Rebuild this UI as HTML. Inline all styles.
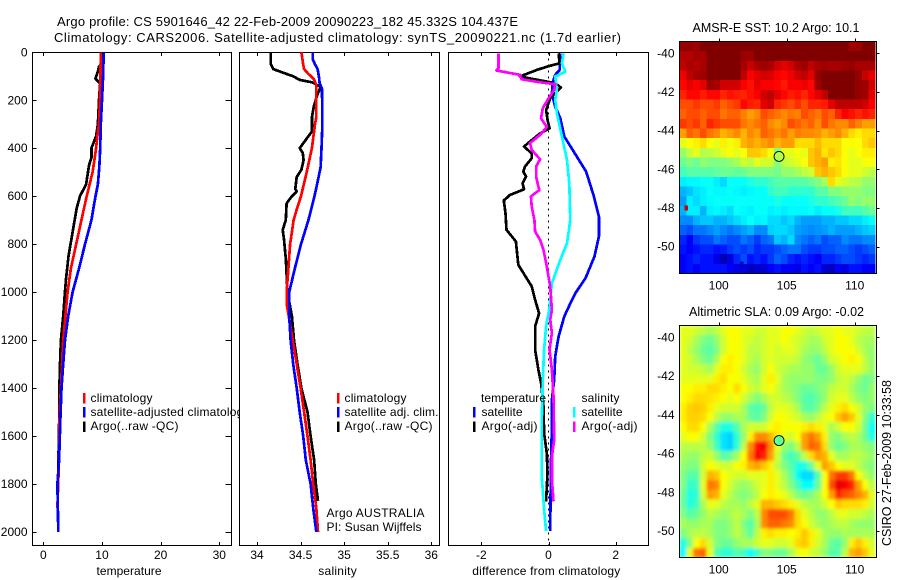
<!DOCTYPE html>
<html>
<head>
<meta charset="utf-8">
<title>Argo profile</title>
<style>
html,body{margin:0;padding:0;background:#fff;width:900px;height:580px;overflow:hidden}
svg{display:block}
text{font-family:"Liberation Sans",sans-serif;font-size:12px;fill:#000}
.frame{fill:none;stroke:#000;stroke-width:1;shape-rendering:crispEdges}
.bg{fill:#fff;stroke:none}
</style>
</head>
<body>
<svg id="chart" xmlns="http://www.w3.org/2000/svg" width="900" height="580" viewBox="0 0 900 580">
  <text x="57" y="26" textLength="461" style="font-size:13px">Argo profile: CS 5901646_42 22-Feb-2009 20090223_182 45.332S 104.437E</text>
  <text x="54" y="42" textLength="567" style="font-size:13px">Climatology: CARS2006. Satellite-adjusted climatology: synTS_20090221.nc (1.7d earlier)</text>

  <g id="p1"></g>
  <g>
    <rect x="83" y="393" width="2.5" height="10.5" fill="#f00"/>
    <text x="90.5" y="402" textLength="62">climatology</text>
    <rect x="83" y="407" width="2.5" height="10.5" fill="#00f"/>
    <text x="90.5" y="416" textLength="159">satellite-adjusted climatology</text>
    <rect x="83" y="421.5" width="2.5" height="10.5" fill="#000"/>
    <text x="90.5" y="430" textLength="88">Argo(..raw -QC)</text>
  </g>

  <rect class="bg" x="239" y="44" width="200" height="510"/>
  <g id="p2"></g>
  <g>
    <rect x="337" y="393" width="2.5" height="10.5" fill="#f00"/>
    <text x="344.5" y="402" textLength="62">climatology</text>
    <rect x="337" y="407" width="2.5" height="10.5" fill="#00f"/>
    <text x="344.5" y="416" textLength="94">satellite adj. clim.</text>
    <rect x="337" y="421.5" width="2.5" height="10.5" fill="#000"/>
    <text x="344.5" y="430" textLength="88">Argo(..raw -QC)</text>
    <text x="326.5" y="517" textLength="98">Argo AUSTRALIA</text>
    <text x="326.5" y="531" textLength="95">PI: Susan Wijffels</text>
  </g>

  <g id="p3"></g>
  <g>
    <text x="481" y="402" textLength="65">temperature</text>
    <rect x="473" y="407" width="2.5" height="10.5" fill="#00f"/>
    <text x="481.5" y="416" textLength="41">satellite</text>
    <rect x="473" y="421.5" width="2.5" height="10.5" fill="#000"/>
    <text x="481.5" y="430" textLength="56">Argo(-adj)</text>
    <text x="581.5" y="402" textLength="38">salinity</text>
    <rect x="573" y="407" width="2.5" height="10.5" fill="#0ff"/>
    <text x="581.5" y="416" textLength="41">satellite</text>
    <rect x="573" y="421.5" width="2.5" height="10.5" fill="#f0f"/>
    <text x="581.5" y="430" textLength="56">Argo(-adj)</text>
  </g>

  <g id="m1"></g>
  <g id="m2"></g>
  <text x="692.5" y="32" textLength="167" style="font-size:12.5px">AMSR-E SST: 10.2 Argo: 10.1</text>
  <text x="689" y="316" textLength="175" style="font-size:12.5px">Altimetric SLA: 0.09 Argo: -0.02</text>
  <text transform="translate(891,546) rotate(-90)" textLength="166" style="font-size:12.5px">CSIRO 27-Feb-2009 10:33:58</text>
</svg>

<script>
/* ---------- profile data ---------- */
const tClimDepth = [0,200,300,350,400,500,600,700,800,900,1000,1200,1400,1500,1700,1900];
const tClimVal   = [9.8,9.66,9.5,9.2,9.0,8.4,7.4,6.5,5.6,4.7,4.15,3.4,3.0,2.8,2.67,2.4];
const tSatDepth  = [0,100,200,300,400,480,550,600,700,800,900,1000,1100,1200,1300,1400,1500,1700,1800,2000];
const tSatVal    = [10.3,10.2,10.0,9.8,9.7,9.55,9.3,8.9,8.2,7.1,6.1,5.0,4.25,3.7,3.4,3.1,2.95,2.7,2.4,2.55];
const tArgoDepth = [50,60,80,110,130,200,300,350,400,440,470,550,600,650,750,850,950,1030,1100,1200,1300,1400,1550,1870];
const tArgoVal   = [9.8,9.5,9.3,8.9,9.7,9.5,9.3,9.0,8.2,8.2,7.8,7.3,6.25,5.7,5.0,4.3,3.85,3.6,3.4,3.0,2.85,2.75,2.7,2.45];

const sClimDepth = [0,50,70,90,110,135,200,270,300,400,500,600,650,700,750,800,900,1000,1060,1200,1300,1400,1500,1600,1700,1800,1900,2000];
const sClimVal   = [34.51,34.53,34.54,34.59,34.65,34.68,34.68,34.68,34.665,34.63,34.57,34.505,34.46,34.42,34.4,34.38,34.36,34.34,34.345,34.41,34.455,34.5,34.54,34.58,34.615,34.645,34.68,34.7];
const sSatDepth  = [0,30,50,70,100,130,150,250,300,400,480,550,600,700,800,900,1000,1100,1200,1300,1400,1500,1600,1700,1800,1900,2000];
const sSatVal    = [34.64,34.64,34.665,34.695,34.71,34.72,34.745,34.75,34.75,34.74,34.73,34.69,34.66,34.59,34.505,34.435,34.37,34.37,34.385,34.415,34.455,34.49,34.53,34.56,34.615,34.645,34.68];
const sArgoDepth = [0,50,70,85,100,115,125,135,145,170,220,270,330,370,400,420,450,490,520,570,580,600,630,700,740,780,860,1000,1100,1200,1300,1400,1500,1600,1700,1800,1870];
const sArgoVal   = [34.157,34.16,34.187,34.3,34.415,34.49,34.63,34.685,34.73,34.7,34.655,34.63,34.63,34.55,34.49,34.525,34.535,34.51,34.455,34.44,34.455,34.4,34.34,34.33,34.295,34.31,34.33,34.35,34.4,34.425,34.465,34.51,34.58,34.615,34.655,34.675,34.7];

const dTSatDepth  = [4,74,94,122,171,226,275,351,414,497,601,685,768,851,942,1004,1032,1101,1185,1268,1365,1449,1560,1726,1996];
const dTSatVal    = [.35,.33,.2,.13,.1,.2,.35,.47,.75,1.12,1.35,1.5,1.5,1.37,1.1,.8,.7,.47,.3,.2,.17,.1,.1,.07,.05];
const dTArgoDepth = [4,46,60,74,101,129,147,192,240,282,317,338,372,393,421,442,476,497,518,546,571,595,618,671,740,789,886,976,1032,1088,1143,1240,1324,1379,1476,1588,1671,1754,1872];
const dTArgoVal   = [.3,.33,-.05,-.35,-.85,.2,.37,.05,-.07,-.03,.03,-.25,-.55,-.73,-.5,-.5,-.7,-.75,-.67,-.77,-.73,-1.15,-1.33,-1.28,-1.25,-.97,-.9,-.5,-.4,-.28,-.4,-.4,-.3,-.22,-.15,-.13,-.05,-.03,-.07];
const dSSatDepth  = [4,46,81,101,157,199,254,351,449,546,699,796,865,963,1067,1088,1143,1240,1365,1532,1768,1907,1996];
const dSSatVal    = [.45,.4,.5,.2,.25,.2,.25,.4,.55,.62,.65,.55,.35,.1,.03,0,-.07,-.13,-.17,-.2,-.2,-.13,-.07];
const dSArgoDepth = [4,67,76,94,112,125,133,157,192,233,275,312,344,379,407,446,476,518,560,574,601,643,699,747,782,824,893,976,1074,1115,1171,1240,1324,1435,1615,1685,1782,1872];
const dSArgoVal   = [-1.49,-1.49,-1.55,-.85,-.8,-.25,.2,.17,0,-.17,-.22,-.05,-.25,-.55,-.5,-.25,-.37,-.37,-.3,-.27,-.52,-.5,-.42,-.4,-.25,-.15,-.05,.05,.1,.05,.1,.03,.1,.15,.17,.1,.1,.15];

const zeroLineDepth = [0,2055];
const zeroLineVal   = [0,0];

/* ---------- tick labels ---------- */
const depthTicks = [0,200,400,600,800,1000,1200,1400,1600,1800,2000];
const tempTicks  = [0,10,20,30];
const salTicks   = [34,34.5,35,35.5,36];
const salLabels  = ["34","34.5","35","35.5","36"];
const diffTicks  = [-2,0,2];
const lonTicks   = [100,105,110];
const latTicks   = [-40,-42,-44,-46,-48,-50];

/* ---------- map values: jet colour-scale percent, 29 columns x 24 rows ---------- */
const sstRows = [
[98,98,97,100,100,100,100,100,100,100,100,100,100,100,100,100,100,100,100,100,100,100,100,100,100,97,97,100,100],
[95,95,96,96,100,100,100,100,100,97,97,100,100,100,100,100,100,100,100,100,100,100,100,100,100,100,100,100,100],
[94,96,95,96,100,100,100,100,100,96,93,96,97,96,92,90,92,96,97,94,96,97,96,96,97,98,96,96,96],
[89,94,96,97,100,100,100,100,100,94,88,90,92,91,88,87,89,92,94,90,98,100,100,100,100,100,98,93,90],
[87,90,88,90,97,96,92,92,92,88,86,90,88,88,87,85,88,88,89,87,97,100,100,100,100,100,98,97,92],
[84,87,87,85,87,87,84,86,85,84,86,88,92,94,90,87,85,86,84,87,90,94,100,100,100,100,98,97,90],
[80,80,82,80,80,82,78,80,82,87,85,84,90,92,84,82,80,83,80,84,84,85,90,94,94,94,94,92,88],
[78,80,80,78,80,80,76,78,78,75,72,74,80,78,76,74,76,75,80,78,76,80,78,84,88,86,84,86,84],
[82,80,82,78,84,82,80,80,80,76,74,76,78,74,72,74,80,78,76,78,74,80,76,74,74,78,75,72,72],
[72,78,76,80,76,74,70,72,74,70,74,72,78,76,74,76,72,75,74,74,73,70,72,74,70,66,64,66,66],
[60,62,64,66,62,60,64,61,64,70,72,70,72,74,70,72,72,66,66,66,69,66,66,66,62,63,62,66,68],
[52,57,60,55,56,58,60,62,60,62,68,68,66,62,50,60,60,62,60,68,70,65,68,66,62,60,62,64,64],
[48,50,48,52,50,50,50,52,54,58,56,60,58,58,50,56,58,60,62,68,70,72,64,65,62,60,60,62,62],
[44,46,46,46,46,47,48,48,47,48,50,50,50,50,49,52,52,54,56,58,68,70,68,66,62,60,60,58,56],
[36,37,37,38,38,36,34,38,38,38,40,42,42,44,46,46,46,46,46,48,50,54,66,60,58,56,55,52,52],
[30,32,35,36,38,37,37,38,37,36,37,38,38,42,44,44,42,42,42,42,46,46,50,50,52,52,52,50,50],
[28,36,34,36,37,38,38,38,38,38,38,38,38,38,40,38,38,38,38,40,42,42,44,46,48,52,50,52,52],
[30,36,36,30,36,37,36,34,38,37,36,38,38,36,37,36,37,37,37,38,36,38,38,40,44,44,44,46,48],
[26,26,30,32,32,30,30,32,34,36,38,36,37,34,34,32,34,30,28,28,28,30,30,32,32,34,34,36,38],
[22,20,24,24,26,28,26,24,26,28,30,26,26,33,34,34,32,28,27,26,27,28,30,28,28,28,30,32,33],
[16,12,18,20,20,24,22,20,20,24,22,18,22,24,32,30,34,26,24,22,24,20,22,22,26,24,24,26,26],
[14,12,14,16,16,14,15,18,20,18,20,16,18,18,20,22,24,24,20,18,18,20,20,22,22,20,18,20,22],
[12,14,16,14,14,10,6,10,16,20,14,16,14,18,22,20,16,14,16,14,12,16,16,18,20,20,18,16,18],
[12,14,12,14,14,14,14,12,10,10,6,8,8,12,14,12,12,10,14,12,14,8,6,12,10,14,14,12,12]
];
const slaRows = [
[60,60,58,56,54,56,60,62,62,60,60,58,58,60,60,62,62,60,58,56,58,60,60,62,60,60,58,56,56],
[60,58,54,50,48,52,58,62,62,60,58,56,58,60,60,62,60,58,56,54,54,58,60,62,62,60,56,54,54],
[60,56,52,48,46,50,58,62,62,60,56,56,58,60,58,60,60,58,54,52,52,56,60,62,62,62,58,54,52],
[60,58,54,50,48,54,62,64,62,60,56,54,58,60,58,58,58,56,52,50,48,52,58,60,62,64,62,56,52],
[60,58,58,56,54,60,64,64,62,58,54,52,58,62,58,56,54,54,52,52,48,48,52,58,60,60,60,56,52],
[60,60,60,60,60,64,66,62,62,60,56,54,60,64,60,54,52,52,52,52,50,50,52,56,58,56,52,48,50],
[62,62,64,64,66,66,64,62,66,62,58,56,60,62,58,54,52,50,48,48,50,52,56,58,58,54,50,48,52],
[62,64,66,66,65,64,62,60,62,58,54,50,54,58,58,56,54,50,46,45,48,52,58,60,60,56,52,50,52],
[64,67,68,67,64,60,58,58,58,54,47,45,48,56,60,60,58,54,47,46,50,56,60,64,66,62,58,52,50],
[64,67,67,66,62,56,52,52,54,54,48,46,50,58,62,62,60,58,54,52,56,60,62,68,72,68,60,50,42],
[62,66,66,62,54,46,40,40,46,54,58,58,58,62,64,62,62,62,64,66,64,60,54,58,62,62,58,48,38],
[60,62,62,58,50,42,35,33,42,52,64,74,74,70,64,60,58,62,72,76,72,64,52,50,54,56,54,48,40],
[56,56,56,56,52,44,35,33,42,56,74,86,88,74,60,52,50,56,72,78,76,66,52,48,50,54,54,52,50],
[54,52,52,56,58,52,46,48,54,62,76,88,84,72,58,48,44,48,56,66,72,70,60,54,54,56,56,54,52],
[52,50,50,58,62,60,58,58,62,64,70,72,68,64,56,50,46,40,40,48,60,72,68,62,60,60,56,52,50],
[50,46,46,58,70,68,62,60,58,58,60,60,60,64,60,54,48,38,34,34,46,62,76,82,82,76,62,56,52],
[50,42,44,60,76,74,62,58,54,52,54,58,60,64,60,56,50,44,38,38,48,62,80,90,88,84,72,62,56],
[48,40,42,58,72,70,60,56,52,50,52,56,62,64,62,60,56,50,48,50,54,62,72,84,80,78,74,70,60],
[48,40,44,54,60,60,56,54,54,52,56,60,70,70,68,66,64,60,56,54,54,58,62,68,66,66,66,64,58],
[50,46,48,52,56,54,52,54,56,54,50,56,74,80,80,80,76,66,60,56,52,52,56,60,60,58,58,56,54],
[54,52,52,54,54,50,50,52,56,50,46,54,74,78,78,76,74,66,62,58,54,52,54,56,56,54,52,52,52],
[50,54,56,56,54,50,50,52,56,52,47,56,64,66,64,64,62,64,68,64,60,54,52,52,54,54,54,54,54],
[40,50,62,66,58,50,48,48,52,54,54,58,60,60,58,58,60,66,68,64,58,54,48,46,52,64,68,64,58],
[38,60,76,78,60,46,42,42,46,44,38,44,50,50,48,48,54,60,62,58,56,52,46,46,56,70,72,68,60]
];
const sstSpotLon = [97.6,100.5,101.7];
const sstSpotLat = [-48,-50.55,-50.9];
const sstSpotVal = [93,2,6];
const floatLon = [104.437];
const floatLat = [-45.332];
const floatSstVal = [55];
const floatSlaVal = [47];

/* ---------- helpers ---------- */
const NS = "http://www.w3.org/2000/svg";
function mk(parent, tag, attrs, txt) {
  const e = document.createElementNS(NS, tag);
  for (const k in attrs) e.setAttribute(k, attrs[k]);
  if (txt !== undefined) e.textContent = txt;
  parent.appendChild(e);
  return e;
}
function linear(d0, d1, r0, r1) {
  return v => r0 + (v - d0) * (r1 - r0) / (d1 - d0);
}
function jet(p) {
  const v = Math.max(0, Math.min(1, p / 100));
  const c = t => Math.round(255 * Math.max(0, Math.min(1, Math.min(4 * t - 0.5, -4 * t + 3.5 + 0))));
  const r = c(v - 0.25), g = c(v), b = c(v + 0.25);
  return "rgb(" + r + "," + g + "," + b + ")";
}

const yDepth = linear(0, 2000, 52.3, 532);

function drawPanel(id, L, R, xScale, xTicks, xLabels, xTitle, titleX, titleLen, prefix, leftLabels) {
  const g = document.getElementById(id);
  const frame = mk(g, "rect", {class: "frame", x: L, y: 52.5, width: R - L, height: 493});
  
  
  xTicks.forEach((t, i) => {
    const x = Math.round(xScale(t)) + 0.5;
    const top = mk(g, "line", {x1: x, x2: x, y1: 52.5, y2: 56, stroke: "#000", "shape-rendering": "crispEdges"});
    
    
    const bot = mk(g, "line", {x1: x, x2: x, y1: 542, y2: 545.5, stroke: "#000", "shape-rendering": "crispEdges"});
    
    
    const lab = mk(g, "text", {x: xScale(t), y: 559, "text-anchor": "middle"}, xLabels[i]);
    
    
  });
  const ttl = mk(g, "text", {x: titleX - titleLen / 2, y: 575, textLength: titleLen}, xTitle);
  
  
  if (leftLabels) {
    depthTicks.forEach(d => {
      const y = Math.round(yDepth(d)) + 0.5;
      const a = mk(g, "line", {x1: L, x2: L + 4, y1: y, y2: y, stroke: "#000", "shape-rendering": "crispEdges"});
      
      
      const b = mk(g, "line", {x1: R - 6, x2: R, y1: y, y2: y, stroke: "#000", "shape-rendering": "crispEdges"});
      
      
      const lab = mk(g, "text", {x: 27.5, y: yDepth(d) + 4, "text-anchor": "end"}, String(d));
      
      
    });
  }
}

function drawLine(id, vals, depths, xScale, color, name, width) {
  const g = document.getElementById(id);
  const pts = vals.map((v, i) => xScale(v).toFixed(1) + "," + yDepth(depths[i]).toFixed(1)).join(" ");
  const pl = mk(g, "polyline", {points: pts, fill: "none", stroke: color, "stroke-width": width, "stroke-linejoin": "round", "shape-rendering": "crispEdges"});
  
  
  return pl;
}

/* ---------- profile panels ---------- */
const xTemp = linear(0, 30, 43.3, 219.3);
const xSal  = linear(34, 36, 257, 431.3);
const xDiff = linear(-2, 2, 481.3, 615.7);
const LW = 2.7;

drawPanel("p1", 32.5, 231.5, xTemp, tempTicks, tempTicks.map(String), "temperature", 129, 65, "temperature", true);
drawLine("p1", tArgoVal, tArgoDepth, xTemp, "#000", "temperature-argo-line", LW);
drawLine("p1", tClimVal, tClimDepth, xTemp, "#f00", "temperature-climatology-line", LW);
drawLine("p1", tSatVal, tSatDepth, xTemp, "#00f", "temperature-satellite-line", LW);

drawPanel("p2", 239.5, 439.5, xSal, salTicks, salLabels, "salinity", 337.5, 38.5, "salinity", false);
drawLine("p2", sArgoVal, sArgoDepth, xSal, "#000", "salinity-argo-line", LW);
drawLine("p2", sClimVal, sClimDepth, xSal, "#f00", "salinity-climatology-line", LW);
drawLine("p2", sSatVal, sSatDepth, xSal, "#00f", "salinity-satellite-line", LW);

drawPanel("p3", 448.5, 648.5, xDiff, diffTicks, diffTicks.map(String), "difference from climatology", 546.3, 148, "difference", false);
const zl = drawLine("p3", zeroLineVal, zeroLineDepth, xDiff, "#000", "zero-reference-line", 1);
zl.setAttribute("stroke-dasharray", "2 4");
drawLine("p3", dTSatVal, dTSatDepth, xDiff, "#00f", "difference-t-satellite-line", LW);
drawLine("p3", dTArgoVal, dTArgoDepth, xDiff, "#000", "difference-t-argo-line", LW);
drawLine("p3", dSSatVal, dSSatDepth, xDiff, "#0ff", "difference-s-satellite-line", LW);
drawLine("p3", dSArgoVal, dSArgoDepth, xDiff, "#f0f", "difference-s-argo-line", LW);

/* ---------- maps ---------- */
function drawMap(id, rows, top, bottom, y40, y50, prefix, blur, floatVal, spots) {
  const g = document.getElementById(id);
  const L = 679.5, R = 876.5, gridR = 875.3;
  const xLon = linear(100, 110, 718.7, 854.7);
  const yLat = linear(-40, -50, y40, y50);
  const nR = rows.length, nC = rows[0].length;
  const cw = (gridR - L) / nC, ch = (bottom - top) / nR;
  const cells = mk(g, "g", blur ? {filter: "url(#" + id + "blur)"} : {});
  
  
  if (blur) {
    const f = mk(g, "filter", {id: id + "blur", x: "0", y: "0", width: "100%", height: "100%"});
    mk(f, "feGaussianBlur", {stdDeviation: blur, edgeMode: "duplicate"});
  }
  rows.forEach((row, r) => row.forEach((v, c) => {
    const cell = mk(cells, "rect", {x: (L + c * cw).toFixed(2), y: (top + r * ch).toFixed(2), width: (cw + 0.4).toFixed(2), height: (ch + 0.4).toFixed(2), fill: jet(v), "shape-rendering": "crispEdges"});
    
    
  }));
  if (spots) spots.lon.forEach((lon, i) => {
    const s = mk(g, "rect", {x: xLon(lon) - 1.7, y: yLat(spots.lat[i]) - 2.4, width: 3.4, height: 4.8, fill: jet(spots.val[i]), "shape-rendering": "crispEdges"});
    
    
  });
  const fr = mk(g, "rect", {class: "frame", x: L, y: top, width: R - L, height: bottom - top});
  
  
  lonTicks.forEach(t => {
    const x = Math.round(xLon(t)) + 0.5;
    const a = mk(g, "line", {x1: x, x2: x, y1: top - 3, y2: top, stroke: "#000", "shape-rendering": "crispEdges"});
    
    
    const lab = mk(g, "text", {x: xLon(t), y: bottom + 16, "text-anchor": "middle"}, String(t));
    
    
  });
  latTicks.forEach(t => {
    const y = Math.round(yLat(t)) + 0.5;
    const a = mk(g, "line", {x1: R, x2: R + 3, y1: y, y2: y, stroke: "#000", "shape-rendering": "crispEdges"});
    
    
    const lab = mk(g, "text", {x: 674.5, y: yLat(t) + 4, "text-anchor": "end"}, String(t));
    
    
  });
  const dot = mk(g, "circle", {cx: xLon(floatLon[0]), cy: yLat(floatLat[0]), r: 5, fill: jet(floatVal), stroke: "#000", "stroke-width": 0.9});
  
  
}
drawMap("m1", sstRows, 41.5, 273.5, 53.3, 246.7, "sst", 0, floatSstVal[0], {lon: sstSpotLon, lat: sstSpotLat, val: sstSpotVal});
drawMap("m2", slaRows, 325.5, 557.5, 337.3, 531, "sla", 1.5, floatSlaVal[0], null);
</script>
</body>
</html>
